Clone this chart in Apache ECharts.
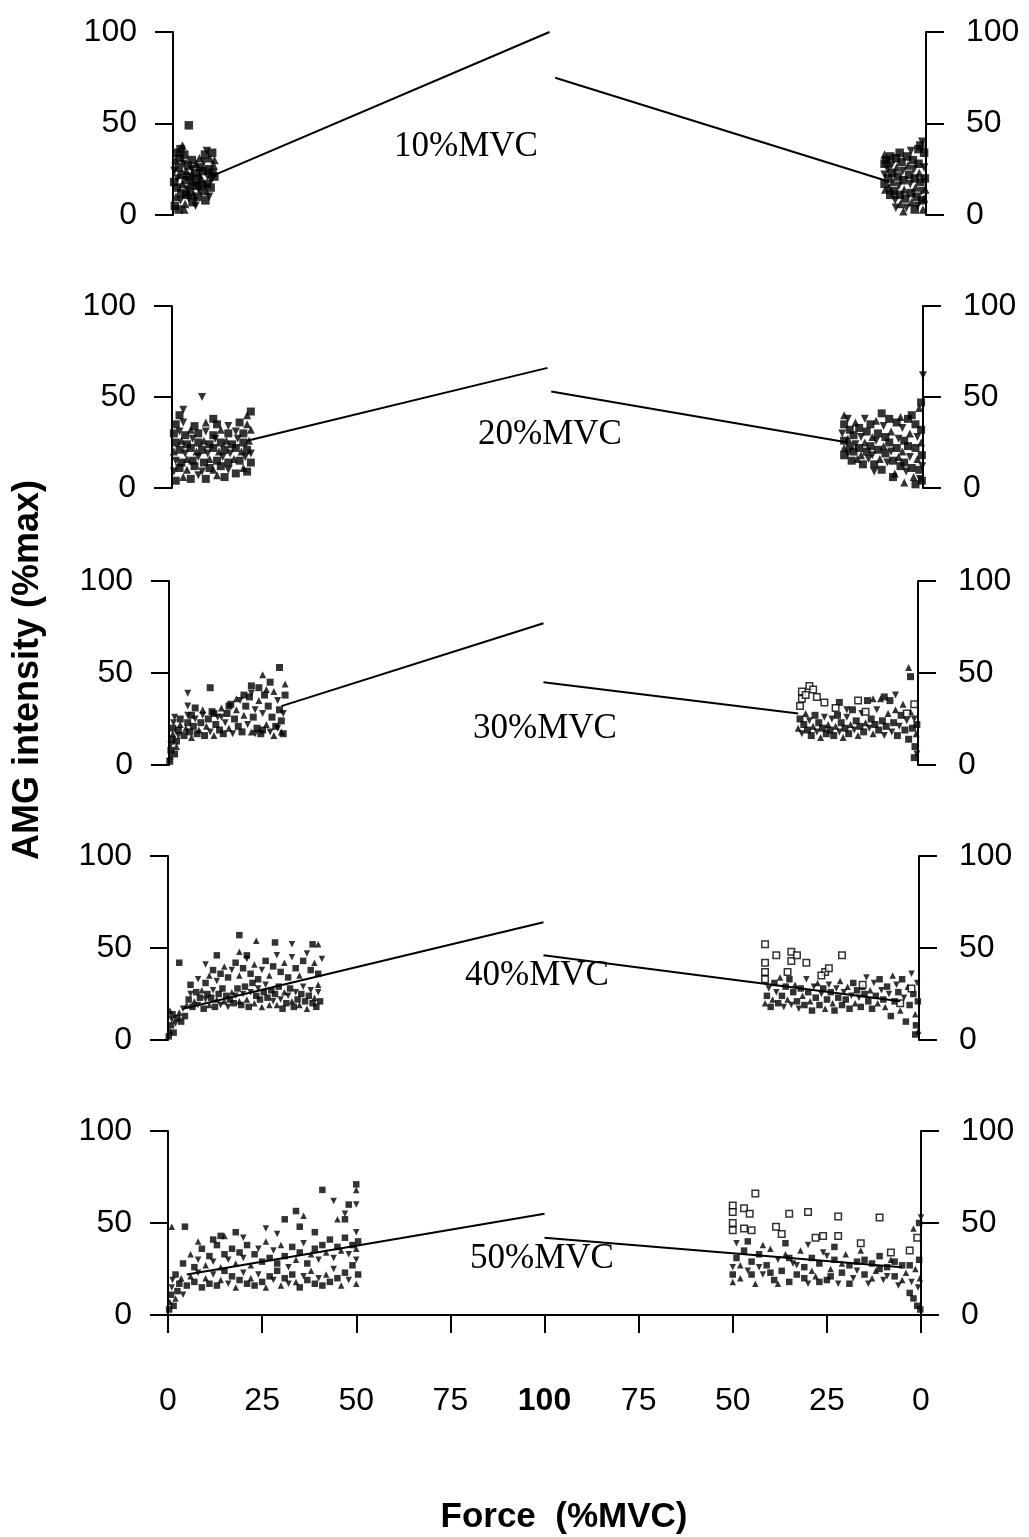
<!DOCTYPE html>
<html><head><meta charset="utf-8">
<script src="https://cdn.jsdelivr.net/npm/echarts@6/dist/echarts.min.js"></script>
<style>html,body{margin:0;padding:0;background:#fff}#c{width:1029px;height:1537px}</style>
</head><body><div id="c"></div>
<script>
// ---------------- DATA ----------------
const panelLabels = ['10%MVC','20%MVC','30%MVC','40%MVC','50%MVC'];
const xTickLabels = ['0','25','50','75','100','75','50','25','0'];
const yTickValues = [0,50,100];
const xTitle = 'Force  (%MVC)';
const yTitle = 'AMG intensity (%max)';

// Ascending phase points: [force, intensity, ...]
const p1Left = [0.5,5,0.8,10,1,15,1.2,20,1.5,26,0.7,30,1,34,2,8,2.2,12,2.5,17,2.3,22,2.8,28,3,33,3.2,6,3.5,11,3.8,14,3.4,19,3.6,24,4,27,4.2,9,4.5,13,4.8,18,4.4,21,5,25,5.2,7,5.5,11,5.8,16,5.4,20,6,23,6.2,28,6.5,10,6.8,14,6.4,18,7,22,7.2,26,7.5,12,7.8,16,7.4,20,8,24,8.2,29,8.5,33,8.8,13,9,17,9.2,21,9.5,25,9.8,31,10,15,10.2,19,10.5,23,10.8,27,10.4,34,9.6,10,8.6,8,3,3,1.5,3,6,5,11,21,11,30,2,36,9,35,4.2,49,2.5,38,0.3,18,0.4,24,5,30,7,31,1.8,31];
const p2Left = [1,4,3,6,5,5,7,7,9,5,12,7,14,6,0.5,9,2,11,4,10,6,12,8,9,10,11,11,10,13,12,15,10,17,8,19,11,20,9,1,15,2.5,14,4,16,5.5,15,7,17,8.5,14,10,16,12,15,13.5,17,15,14,16.5,16,18,15,19.5,17,21,14,0.5,20,2,21,3.5,19,5,22,6.5,20,8,21,9.5,19,11,22,12.5,20,14,21,15.5,19,17,22,18.5,20,20,21,21,19,1,25,2.5,26,4,24,5.5,27,7,25,8.5,26,10,24,11.5,27,13,25,14.5,26,16,24,17.5,27,19,25,20.5,26,0.5,30,2,31,3.5,29,5,32,7,30,9,31,11,29,13,32,15,30,17,31,19,30,21,32,1,35,3,36,6,34,9,36,12,35,15,34,18,36,20,35,2,40,3,43,11,38,20,40,21,42,8,50];
const p3Left = [0.2,2,0.3,5,0.5,8,0.5,11,0.8,14,1,17,1,20,1.2,23,1.5,6,2,10,2,13,2.5,16,2.5,19,3,22,3,25,1.5,26,4,16,4.5,20,5,23,5,27,5.5,18,6,15,6.5,21,7,25,7.5,17,8,19,8.5,23,9,27,9.5,16,10,21,10.5,25,11,18,11.5,29,12,16,12.5,22,13,26,13.5,19,14,31,14.5,17,15,23,15.5,28,16,20,16.5,33,17,17,17.5,25,18,30,18.5,21,19,35,19.5,18,20,27,20.5,32,21,22,21.5,37,22,18,22.5,26,23,30,23.5,20,24,35,24.5,17,25,28,25.5,38,26,22,26.5,32,27,18,27.5,26,28,40,28.5,21,29,35,29.5,30,30,18,30,24,30.5,28,31,38,31,44,30.5,17,29,20,27,45,26,41,24,42,22,39,20,38,18,36,16,32,14,26,12,28,9,30,7,31,5,32,6,27,28,16,25,19,23,17,29.5,53,25,49,11,42,5,39,22,43];
const p4Left = [0.2,2,0.5,5,0.8,8,1,11,1.2,14,0.5,16,1.5,4,2,9,2.5,12,3,15,3.5,10,4,17,4.5,13,5,19,5.5,22,6,25,6.5,18,7,21,7.5,26,8,19,8.5,23,9,27,9.5,17,10,22,10.5,25,11,19,11.5,23,12,27,12.5,18,13,22,13.5,25,14,19,14.5,28,15,21,15.5,24,16,18,16.5,22,17,26,17.5,20,18,24,18.5,28,19,21,19.5,19,20,25,20.5,29,21,22,21.5,18,22,26,22.5,31,23,20,23.5,24,24,28,24.5,22,25,18,25.5,26,26,30,26.5,23,27,19,27.5,27,28,21,28.5,25,29,19,29.5,29,30,22,30.5,17,31,26,31.5,20,32,24,32.5,28,33,21,33.5,18,34,26,34.5,22,35,19,35.5,25,36,29,36.5,21,37,17,37.5,24,38,27,38.5,20,39,23,39.5,18,40,26,40.5,21,40,30,6,30,8,33,10,31,11,35,12,38,13,32,14,36,15,40,16,34,17,38,18,42,19,35,20,39,21,44,22,36,23,41,24,33,25,38,26,43,27,35,28,40,29,46,30,37,31,42,32,34,33,45,34,39,35,35,36,43,37,47,38,38,39,42,40,36,41,44,19,57,23.5,54,28.5,53,33,52,38.5,52,40,52,3,42,10,41,13,46,19,48,21,46];
const p5Left = [0.3,3,0.5,7,0.8,11,1,15,1.5,5,2,9,2.5,13,1.2,19,3,17,3.5,20,2,22,4,11,5,16,6,21,7,18,8,23,9,15,10,20,11,17,12,22,13,16,14,19,15,24,16,17,17,21,18,15,19,19,20,23,21,17,22,20,23,16,24,22,25,18,26,15,27,21,28,19,29,24,30,16,31,20,32,17,33,22,34,18,35,15,36,21,37,19,38,24,39,17,40,20,41,16,42,22,43,18,44,25,45,20,46,16,47,23,48,19,49,27,50,17,50.5,22,50,30,4,28,6,33,7,26,8,30,9,36,10,27,11,32,12,29,13,38,14,26,15,33,16,30,17,36,18,28,19,34,20,31,21,38,22,27,23,33,24,36,25,29,26,40,27,31,28,35,29,28,30,38,31,32,32,26,33,37,34,30,35,34,36,39,37,28,38,33,39,36,40,30,41,38,42,34,43,41,44,31,45,37,46,35,47,42,48,33,49,38,50,36,50.5,40,50,45,50,71,50,68,41,68,44,62,34,56.5,36,54,48,60,50,60,31,52,1,48,4.5,48,26,47,35,48,45,52,47,52,47,55,14,43,15,43,18,45,20,42,12,41,8,40,39,45,29,44];

// Descending phase points (force falling back to 0): [force, intensity, ...]
const p1Right = [11,33,11,28,11,22,11,17,10.8,14,10.5,30,10.2,25,10,20,9.8,15,9.5,11,9.2,27,9,23,8.8,18,8.5,13,8.2,8,8,31,7.8,26,7.5,21,7.2,16,7,11,6.8,6,6.5,29,6.2,24,6,19,5.8,14,5.5,9,5.2,4,5,32,4.8,27,4.5,22,4.2,17,4,12,3.8,7,3.5,30,3.2,25,3,20,2.8,15,2.5,10,2.2,5,2,28,1.8,23,1.5,18,1.2,13,1,8,0.8,3,0.5,34,0.5,26,0.3,20,0.2,14,1.5,38,1,40,2,36,0.5,9,7,34,4,35,9.5,32,6,2,3,3,8,4];
const p2Right = [21,40,21,35,21.5,30,21,26,21,22,21,18,20,38,19.5,32,20,27,19.5,23,20,19,19,15,18,36,18.5,29,18,24,18.5,20,17.5,16,17,33,16.5,28,17,22,16.5,18,16,13,15.5,38,15,31,15.5,25,15,20,14.5,16,14,35,13.5,28,14,23,13.5,18,13,13,12.5,37,12,30,12.5,26,12,21,11.5,16,11,10,10.5,34,10,28,10.5,23,10,19,9.5,14,9,38,8.5,31,9,25,8.5,20,8,15,7.5,8,7,36,6.5,27,7,22,6.5,17,6,12,5.5,33,5,26,5.5,20,5,14,4.5,9,4,38,3.5,30,4,23,3.5,17,3,11,2.5,6,2,35,1.5,28,2,22,1.5,16,1,10,0.8,5,0.5,32,0.5,25,0.3,18,0.2,12,0.3,4,1,44,0.5,47,0,62,3,40,6,39,11,41,13,9,8,6,5,3,2,2];
const p3Right = [32,20,31.5,25,31,17,30.5,22,30,28,29.5,19,29,24,28.5,16,28,21,27.5,27,27,18,26.5,23,26,15,25.5,20,25,26,24.5,17,24,22,23.5,19,23,25,22.5,16,22,21,21.5,27,21,18,20.5,23,20,15,19.5,20,19,26,18.5,17,18,22,17.5,30,17,19,16.5,24,16,16,15.5,21,15,28,14.5,18,14,23,13.5,35,13,20,12.5,25,12,17,11.5,22,11,30,10.5,19,10,36,9.5,24,9,16,8.5,21,8,28,7.5,35,7,18,6.5,23,6,30,5.5,16,5,21,4.5,27,4,33,3.5,19,3,24,2.5,14,2,29,1.5,20,1,25,0.8,10,0.5,17,0.3,22,0.3,6,1,4,2.5,53,2,48,6,38,9,37,12,36,21,34,19,30];
const p4Right = [41,20,40.5,24,40,28,39.5,18,39,22,38.5,31,38,26,37.5,20,37,34,36.5,24,36,18,35.5,29,35,22,34.5,33,34,19,33.5,26,33,30,32.5,21,32,17,31.5,28,31,24,30.5,19,30,33,29.5,26,29,21,28.5,16,28,29,27.5,23,27,31,26.5,19,26,25,25.5,28,25,17,24.5,22,24,30,23.5,26,23,20,22.5,16,22,28,21.5,23,21,32,20.5,19,20,26,19.5,22,19,29,18.5,17,18,24,17.5,31,17,20,16.5,27,16,23,15.5,18,15,29,14.5,25,14,34,13.5,21,13,27,12.5,17,12,31,11.5,24,11,20,10.5,33,10,27,9.5,22,9,18,8.5,29,8,25,7.5,13,7,35,6.5,21,6,30,5.5,26,5,16,4.5,33,4,23,3.5,10,3,29,2.5,19,2,36,1.5,25,1,14,0.8,8,0.5,31,0.3,21,0.2,5,1,3];
const p5Right = [50,18,50,22,50,26,49,31,48,20,47,35,46,24,45,29,44,17,43,33,42,22,41,27,40,36,39,19,38,30,37,24,36,33,35,18,34,28,33,22,32,35,31,26,30,17,29,31,28,21,27,28,26,34,25,19,24,25,23,30,22,17,21,23,20,33,19,27,18,20,17,29,16,35,15,22,14,17,13,28,12,24,11,32,10,19,9,26,8,30,7,21,6,16,5,27,4,23,3,12,2.5,18,2,9,1.5,25,1,5,0.8,15,0.5,30,0.3,20,0.2,3,49,39,46,40,42,38,36,39,30,38,23,37,48,27,45,22,43,26,40,23,38,17,35,31,33,27,31,20,29,24,27,18,25,32,24,21,21,28,19,17,17,24,15,30,13,20,11,25,9,21,7,29,5,19,3,27,0,53,0.5,50,2,47];
// Open-square points of the descending phase
const p3Open = [31,40,31,36,30,38,29,43,28,41,27,37,31.5,32,25,34,22,31,16,35,14,29,3,28,1,33];
const p4Open = [41,52,38,46,34,48,34,43,32.5,46,30,42,25,37,24,39,20.5,46,41,42,41,37,41,33,35,37,26,35,15,30,5,20,2,28];
const p5Open = [44,66,50,59.5,47,58,50,56,50,50,45.5,55,38.5,48,35,55,30,56,22,53.5,11,53,47,47,50,46,45,46,37,44,28,42,26,43,22,43,1,42,3,35,16,39,8,34];

// Regression lines: [force0, y0, force1, y1]
const fitLeft  = [[10,21,100,100],[20,26,100,66],[30,32,100,77],[4,17,100,64],[5,22,100,55]];
const fitRight = [[98.5,75,11,19],[99,53,20,25],[100,45,32,28],[100,46,5,21],[100,42,5,26]];

const leftPts  = [p1Left,p2Left,p3Left,p4Left,p5Left];
const rightPts = [p1Right,p2Right,p3Right,p4Right,p5Right];
const openPts  = [null,null,p3Open,p4Open,p5Open];

// ---------------- CHART ----------------
function pairs(a, mirror){ const o=[]; for(let i=0;i<a.length;i+=2){ o.push([mirror?200-a[i]:a[i], a[i+1]]); } return o; }
const SANS = '"Liberation Sans", Arial, sans-serif';
const SERIF = '"Liberation Serif", "Times New Roman", serif';
const shapes = ['rect','triangle','rect','path://M0,0L10,0L5,9Z'];
const markSize = [8.5,8,7,6.5,6.5];

const gridPos = [
  {left:173, right:1029-926, top:32,   height:183},
  {left:172, right:1029-923, top:306,  height:182},
  {left:169, right:1029-918, top:581,  height:184},
  {left:168, right:1029-919, top:856,  height:184},
  {left:168, right:1029-921, top:1131, height:184}
];
const labelPos = [[394,147],[478,435],[473,729],[465,976],[470,1259]];

const grid=[], xAxis=[], yAxis=[], series=[], graphic=[];
for(let k=0;k<5;k++){
  grid.push(Object.assign({containLabel:false}, gridPos[k]));
  const last = k===4;
  xAxis.push({
    type:'value', gridIndex:k, min:0, max:200, interval:25, show:last, offset: last?30:0,
    axisLine:{show:last, lineStyle:{color:'#000', width:2}},
    axisTick:{show:last, length:18, lineStyle:{color:'#000', width:2}},
    splitLine:{show:false},
    axisLabel:{show:last, margin:40, color:'#000', fontSize:32, fontFamily:SANS,
      formatter:(v)=>{ const t = xTickLabels[Math.round(v/25)]; return v===100 ? '{b|'+t+'}' : t; },
      rich:{b:{fontWeight:'bold', fontSize:32, fontFamily:SANS, color:'#000'}}}
  });
  ['left','right'].forEach(pos=>{
    yAxis.push({
      type:'value', gridIndex:k, position:pos, min:yTickValues[0], max:yTickValues[2], interval:50,
      axisLine:{show:true, onZero:false, lineStyle:{color:'#000', width:2}},
      axisTick:{show:true, length:18, lineStyle:{color:'#000', width:2}},
      splitLine:{show:false},
      axisLabel:{margin: pos==='left'?36:40, color:'#000', fontSize:32, fontFamily:SANS}
    });
  });
  const yl = 2*k;
  series.push({type:'scatter', xAxisIndex:k, yAxisIndex:yl, data:pairs(leftPts[k],false),
    symbol:(v,p)=>shapes[p.dataIndex%4], symbolSize:markSize[k], itemStyle:{color:'#000'}, silent:true, z:2});
  series.push({type:'scatter', xAxisIndex:k, yAxisIndex:yl, data:pairs(rightPts[k],true),
    symbol:(v,p)=>shapes[(p.dataIndex+1)%4], symbolSize:markSize[k], itemStyle:{color:'#000'}, silent:true, z:2});
  if(openPts[k]) series.push({type:'scatter', xAxisIndex:k, yAxisIndex:yl, data:pairs(openPts[k],true),
    symbol:'rect', symbolSize:6.5, itemStyle:{color:'#fff', borderColor:'#000', borderWidth:1.5}, silent:true, z:3});
  const fl = fitLeft[k], fr = fitRight[k];
  series.push({type:'line', xAxisIndex:k, yAxisIndex:yl, data:[[fl[0],fl[1]],[fl[2],fl[3]]],
    symbol:'none', lineStyle:{color:'#000', width:2}, silent:true, z:4, animation:false});
  series.push({type:'line', xAxisIndex:k, yAxisIndex:yl, data:[[200-fr[0],fr[1]],[200-fr[2],fr[3]]],
    symbol:'none', lineStyle:{color:'#000', width:2}, silent:true, z:4, animation:false});
  graphic.push({type:'text', left:labelPos[k][0], top:labelPos[k][1]-18,
    style:{text:panelLabels[k], font:'35px '+SERIF, fill:'#000'}});
}
graphic.push({type:'text', x:564, y:1517, style:{text:xTitle, font:'bold 35px '+SANS, fill:'#000', align:'center', verticalAlign:'middle'}});
graphic.push({type:'text', x:28, y:670, rotation:Math.PI/2, style:{text:yTitle, font:'bold 36px '+SANS, fill:'#000', align:'center', verticalAlign:'middle'}});

const chart = echarts.init(document.getElementById('c'), null, {renderer:'canvas'});
chart.setOption({animation:false, backgroundColor:'#fff', grid, xAxis, yAxis, series, graphic});
</script></body></html>
